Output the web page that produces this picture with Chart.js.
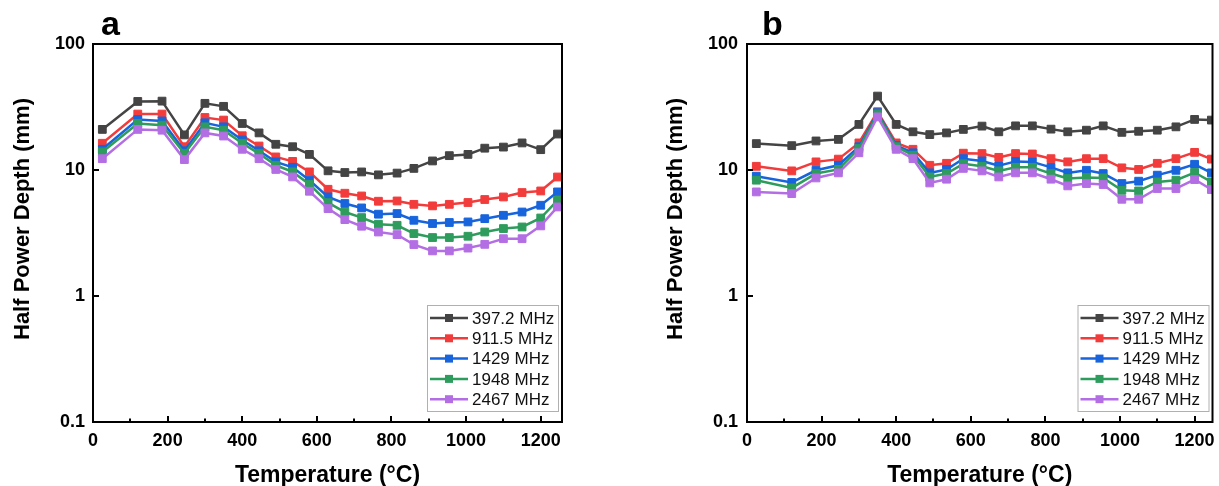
<!DOCTYPE html>
<html>
<head>
<meta charset="utf-8">
<script src="https://cdn.jsdelivr.net/npm/chart.js@4.4.1/dist/chart.umd.min.js"></script>
<style>
  html, body { margin: 0; padding: 0; background: #fff; }
  #wrap { position: relative; width: 1219px; height: 486px; overflow: hidden; }
  canvas { position: absolute; top: 0; }
  #chartA { left: 0; }
  #chartB { left: 640px; }
</style>
</head>
<body>
<div id="wrap">
  <canvas id="chartA" width="600" height="486"></canvas>
  <canvas id="chartB" width="579" height="486"></canvas>
</div>
<script>
/* ---------------- DATA ---------------- */
const tempsC = [25, 120, 185, 245, 300, 350, 400, 445, 490, 535, 580, 630, 675,
                720, 765, 815, 860, 910, 955, 1005, 1050, 1100, 1150, 1200, 1245];

const seriesLabels = ["397.2 MHz", "911.5 MHz", "1429 MHz", "1948 MHz", "2467 MHz"];

// panel a
const a397  = [21.0, 35.0, 35.2, 19.0, 33.8, 32.0, 23.4, 19.7, 16.0, 15.3, 13.3, 9.85, 9.55,
               9.65, 9.15, 9.45, 10.3, 11.8, 13.0, 13.3, 14.9, 15.2, 16.4, 14.5, 19.3];
const a911  = [16.3, 27.8, 27.8, 15.3, 26.1, 24.9, 18.7, 15.5, 12.7, 11.7, 9.66, 7.03, 6.54,
               6.22, 5.65, 5.68, 5.34, 5.19, 5.34, 5.52, 5.83, 6.11, 6.62, 6.82, 8.8];
const a1429 = [14.6, 25.2, 24.5, 14.2, 23.7, 22.0, 17.3, 14.2, 11.6, 10.5, 8.3, 6.11, 5.42,
               5.0, 4.46, 4.51, 3.99, 3.76, 3.83, 3.87, 4.11, 4.37, 4.64, 5.25, 6.7];
const a1948 = [13.9, 23.4, 22.7, 13.5, 22.0, 20.7, 16.3, 13.5, 10.9, 9.66, 7.71, 5.5, 4.64,
               4.19, 3.71, 3.64, 3.13, 2.91, 2.91, 2.98, 3.22, 3.43, 3.53, 4.16, 5.75];
const a2467 = [12.3, 21.0, 20.7, 12.1, 19.7, 18.6, 14.6, 12.3, 10.1, 8.81, 6.78, 4.94, 4.04,
               3.58, 3.22, 3.07, 2.56, 2.28, 2.28, 2.40, 2.57, 2.85, 2.85, 3.6, 5.09];

// panel b
const b397  = [16.2, 15.6, 17.0, 17.5, 23.0, 38.6, 23.0, 20.1, 19.1, 19.7, 21.0, 22.3, 20.1,
               22.4, 22.4, 21.1, 20.1, 20.7, 22.4, 19.9, 20.3, 20.7, 22.0, 25.2, 24.9];
const b911  = [10.7, 9.84, 11.6, 12.2, 16.4, 29.0, 16.4, 14.6, 10.9, 11.3, 13.6, 13.5, 12.6,
               13.5, 13.4, 12.3, 11.6, 12.3, 12.3, 10.4, 10.1, 11.3, 12.3, 13.8, 12.2];
const b1429 = [8.93, 7.96, 9.95, 10.9, 15.3, 28.5, 15.7, 13.7, 9.49, 10.1, 12.3, 11.8, 10.8,
               11.7, 11.6, 10.5, 9.49, 9.95, 9.37, 7.81, 8.15, 9.1, 9.95, 11.1, 9.49];
const b1948 = [8.3, 7.21, 9.37, 10.1, 14.8, 27.8, 15.3, 13.1, 8.81, 9.37, 11.2, 10.7, 9.84,
               10.5, 10.5, 9.37, 8.55, 8.71, 8.65, 6.9, 6.82, 8.04, 8.3, 9.55, 8.04];
const b2467 = [6.7, 6.5, 8.65, 9.49, 13.7, 26.4, 14.6, 12.3, 7.89, 8.45, 10.3, 9.84, 8.81,
               9.49, 9.49, 8.45, 7.48, 7.81, 7.67, 5.86, 5.86, 7.13, 7.13, 8.4, 7.0];

const xTicks  = [0, 200, 400, 600, 800, 1000, 1200];
const xMinor  = [100, 300, 500, 700, 900, 1100];
const yTicks  = [0.1, 1, 10, 100];
/* --------------------------------------- */

const COLORS = ["#444444", "#f23c3c", "#1764dc", "#2e9c5c", "#b36ee4"];
const FONT = '"Liberation Sans", Arial, sans-serif';

/* frame, inward ticks, panel letter, y title, legend */
const decorPlugin = {
  id: "decor",
  afterDatasetsDraw(chart, args, o) {
    const { ctx, chartArea: a, scales: { x, y } } = chart;
    ctx.save();
    ctx.strokeStyle = "#000";
    ctx.lineWidth = 2;
    ctx.strokeRect(a.left, a.top, a.right - a.left, a.bottom - a.top);

    ctx.beginPath();
    xTicks.forEach(v => {
      const px = Math.round(x.getPixelForValue(v));
      ctx.moveTo(px, a.bottom); ctx.lineTo(px, a.bottom - 6);
    });
    xMinor.forEach(v => {
      const px = Math.round(x.getPixelForValue(v));
      ctx.moveTo(px, a.bottom); ctx.lineTo(px, a.bottom - 3.5);
    });
    yTicks.forEach(v => {
      const py = Math.round(y.getPixelForValue(v));
      ctx.moveTo(a.left, py); ctx.lineTo(a.left + 6, py);
    });
    ctx.stroke();

    // panel letter
    ctx.fillStyle = "#000";
    ctx.font = "bold 34px " + FONT;
    ctx.textAlign = "left";
    ctx.textBaseline = "alphabetic";
    ctx.fillText(o.letter, o.letterX, 35);

    // y axis title
    ctx.save();
    ctx.translate(o.yTitleX, 219);
    ctx.rotate(-Math.PI / 2);
    ctx.font = "bold 22px " + FONT;
    ctx.textAlign = "center";
    ctx.textBaseline = "middle";
    ctx.fillText("Half Power Depth (mm)", 0, 0);
    ctx.restore();

    // legend
    const bw = 131, bh = 106;
    const bx = a.right - 4 - bw, by = a.bottom - 11 - bh;
    ctx.fillStyle = "#fff";
    ctx.fillRect(bx, by, bw, bh);
    ctx.strokeStyle = "#b0b0b0";
    ctx.lineWidth = 1;
    ctx.strokeRect(bx + 0.5, by + 0.5, bw, bh);
    chart.data.datasets.forEach((ds, i) => {
      const ry = by + 13 + i * 20.3;
      ctx.strokeStyle = ds.borderColor;
      ctx.lineWidth = 2.5;
      ctx.beginPath();
      ctx.moveTo(bx + 3, ry); ctx.lineTo(bx + 41, ry);
      ctx.stroke();
      ctx.fillStyle = ds.borderColor;
      ctx.fillRect(bx + 22 - 4, ry - 4, 8, 8);
      ctx.fillStyle = "#111";
      ctx.font = "17px " + FONT;
      ctx.textAlign = "left";
      ctx.textBaseline = "middle";
      ctx.fillText(ds.label, bx + 45, ry + 1);
    });
    ctx.restore();
  }
};

function makeDatasets(series) {
  return series.map((vals, i) => ({
    label: seriesLabels[i],
    data: tempsC.map((t, k) => ({ x: t, y: vals[k] })),
    borderColor: COLORS[i],
    backgroundColor: COLORS[i],
    pointBackgroundColor: COLORS[i],
    pointBorderColor: COLORS[i],
    pointStyle: "rect",
    pointRadius: 5.5,
    pointBorderWidth: 1,
    borderWidth: 2.5,
    tension: 0,
    fill: false,
    order: series.length - i
  }));
}

function makePanel(id, series, cfg) {
  return new Chart(document.getElementById(id), {
    type: "line",
    data: { datasets: makeDatasets(series) },
    options: {
      responsive: false,
      animation: false,
      devicePixelRatio: 1,
      layout: { padding: { left: 0, right: cfg.padRight, top: 44, bottom: 0 } },
      plugins: {
        legend: { display: false },
        tooltip: { enabled: false },
        decor: { letter: cfg.letter, letterX: cfg.letterX, yTitleX: cfg.yTitleX }
      },
      scales: {
        x: {
          type: "linear",
          min: 0,
          max: cfg.xMax,
          grid: { display: false },
          border: { display: false },
          afterBuildTicks: s => { s.ticks = xTicks.map(v => ({ value: v })); },
          afterFit: s => { s.height = 64; },
          ticks: {
            color: "#000",
            padding: 0,
            font: { family: FONT, size: 18, weight: "bold" },
            callback: v => String(v)
          },
          title: {
            display: true,
            text: "Temperature (°C)",
            color: "#000",
            padding: { top: 0, bottom: -3 },
            font: { family: FONT, size: 23, weight: "bold" }
          }
        },
        y: {
          type: "logarithmic",
          min: 0.1,
          max: 100,
          grid: { display: false },
          border: { display: false },
          afterBuildTicks: s => { s.ticks = yTicks.map(v => ({ value: v })); },
          afterFit: s => { s.width = cfg.axisW; },
          ticks: {
            color: "#000",
            padding: cfg.yPad,
            font: { family: FONT, size: 18, weight: "bold" },
            callback: v => String(v)
          }
        }
      }
    },
    plugins: [decorPlugin]
  });
}

makePanel("chartA", [a397, a911, a1429, a1948, a2467],
  { letter: "a", letterX: 101, yTitleX: 23, xMax: 1257, axisW: 93, padRight: 38, yPad: 0 });
makePanel("chartB", [b397, b911, b1429, b1948, b2467],
  { letter: "b", letterX: 122, yTitleX: 36, xMax: 1248, axisW: 107, padRight: 5, yPad: 1 });
</script>
</body>
</html>
